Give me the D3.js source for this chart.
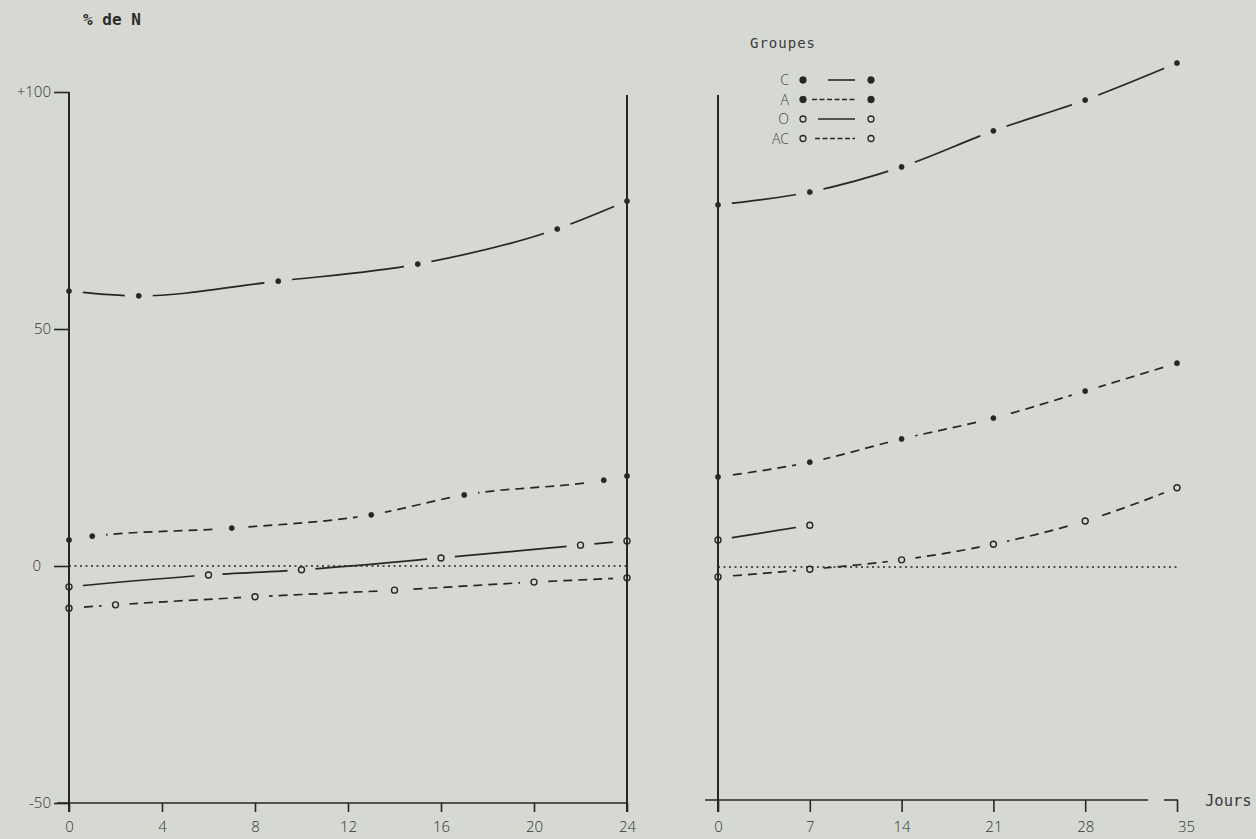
<!DOCTYPE html>
<html>
<head>
<meta charset="utf-8">
<script src="https://cdn.jsdelivr.net/npm/d3@7"></script>
<style>
  body { margin: 0; background: #d6d9d2; }
  svg { display: block; }
  .tick text { font-family: "Open Sans", "Liberation Sans", sans-serif; font-weight: 300; font-size: 15px; fill: #333; }
</style>
</head>
<body>
<svg width="1256" height="839"></svg>
<script>
// tick labels
const ticksG = [0, 4, 8, 12, 16, 20, 24];
const ticksD = [0, 7, 14, 21, 28, 35];
const ticksY = [-50, 0, 50, 100];
const groups = ['C', 'A', 'O', 'AC'];

// left panel (0 - 24)
const joursCG = [0, 3, 9, 15, 21, 24];
const valsCG = [58.0, 57.0, 60.1, 63.7, 71.1, 77.0];
const joursAG = [0, 1, 7, 13, 17, 23, 24];
const valsAG = [5.5, 6.3, 8.0, 10.8, 15.0, 18.1, 19.0];
const joursOG = [0, 6, 10, 16, 22, 24];
const valsOG = [-4.4, -1.9, -0.8, 1.7, 4.4, 5.3];
const joursACG = [0, 2, 8, 14, 20, 24];
const valsACG = [-8.9, -8.2, -6.5, -5.1, -3.4, -2.5];

// right panel (0 - 35 jours)
const joursCD = [0, 7, 14, 21, 28, 35];
const valsCD = [76.2, 78.9, 84.2, 91.8, 98.3, 106.1];
const joursAD = [0, 7, 14, 21, 28, 35];
const valsAD = [18.8, 21.9, 26.8, 31.2, 36.9, 42.8];
const joursOD = [0, 7];
const valsOD = [5.5, 8.6];
const joursACD = [0, 7, 14, 21, 28, 35];
const valsACD = [-2.3, -0.7, 1.3, 4.6, 9.5, 16.5];

const ink = '#262626';

// line style per group
const dashes = { C: null, A: '9,6', O: null, AC: '9,6' };
const filled = { C: true, A: true, O: false, AC: false };

const svg = d3.select('svg');

const scaleY = d3.scaleLinear().domain([-50, 100]).range([803, 92]);
const scaleXG = d3.scaleLinear().domain([0, 24]).range([69, 627]);
const scaleXD = d3.scaleLinear().domain([0, 35]).range([718, 1177]);

const zip = (xs, ys) => xs.map((x, i) => ({ x: x, y: ys[i] }));

const panels = [
  {
    scaleX: scaleXG,
    series: [
      { g: 'C', pts: zip(joursCG, valsCG) },
      { g: 'A', pts: zip(joursAG, valsAG) },
      { g: 'O', pts: zip(joursOG, valsOG) },
      { g: 'AC', pts: zip(joursACG, valsACG) }
    ]
  },
  {
    scaleX: scaleXD,
    series: [
      { g: 'C', pts: zip(joursCD, valsCD) },
      { g: 'A', pts: zip(joursAD, valsAD) },
      { g: 'O', pts: zip(joursOD, valsOD) },
      { g: 'AC', pts: zip(joursACD, valsACD) }
    ]
  }
];

// mask: the curves stop short of each point
const mask = svg.append('defs').append('mask')
  .attr('id', 'gaps')
  .attr('maskUnits', 'userSpaceOnUse')
  .attr('x', 0).attr('y', 0).attr('width', 1256).attr('height', 839);
mask.append('rect')
  .attr('width', 1256).attr('height', 839)
  .attr('fill', 'white');
panels.forEach(p => {
  p.series.forEach(s => {
    mask.append('g')
      .selectAll('circle')
      .data(s.pts)
      .join('circle')
      .attr('cx', d => p.scaleX(d.x))
      .attr('cy', d => scaleY(d.y))
      .attr('r', 14)
      .attr('fill', 'black');
  });
});

// curves
const curves = svg.append('g').attr('mask', 'url(#gaps)');
panels.forEach(p => {
  const line = d3.line()
    .x(d => p.scaleX(d.x))
    .y(d => scaleY(d.y))
    .curve(d3.curveMonotoneX);

  curves.append('g')
    .selectAll('path')
    .data(p.series)
    .join('path')
    .attr('d', s => line(s.pts))
    .attr('fill', 'none')
    .attr('stroke', ink)
    .attr('stroke-width', 1.7)
    .attr('stroke-dasharray', s => dashes[s.g]);
});

// zero lines
svg.append('line')
  .attr('x1', scaleXG(0)).attr('x2', scaleXG(24))
  .attr('y1', scaleY(0)).attr('y2', scaleY(0))
  .attr('stroke', ink).attr('stroke-width', 1.3)
  .attr('stroke-dasharray', '2,3.5');

svg.append('line')
  .attr('x1', scaleXD(0)).attr('x2', scaleXD(35))
  .attr('y1', scaleY(0) + 1).attr('y2', scaleY(0) + 1)
  .attr('stroke', ink).attr('stroke-width', 1.3)
  .attr('stroke-dasharray', '2,3.5');

// left y axis
const axisYG = svg.append('g')
  .attr('transform', `translate(${scaleXG(0)}, 0)`)
  .call(d3.axisLeft(scaleY)
    .tickValues(ticksY)
    .tickSizeInner(15)
    .tickSizeOuter(0)
    .tickPadding(3)
    .tickFormat(d => d === 100 ? '+100' : d));
axisYG.select('.domain').remove();
axisYG.selectAll('.tick line').attr('stroke', ink).attr('stroke-width', 1.6);
axisYG.selectAll('.tick text').filter(d => d === 0).attr('dx', -10);
axisYG.append('line')
  .attr('y1', scaleY(100)).attr('y2', scaleY(-50) + 9)
  .attr('stroke', ink).attr('stroke-width', 2);

// left x axis
const axisXG = svg.append('g')
  .attr('transform', `translate(0, ${scaleY(-50)})`)
  .call(d3.axisBottom(scaleXG)
    .tickValues(ticksG)
    .tickSizeInner(9)
    .tickSizeOuter(0)
    .tickPadding(9));
axisXG.select('.domain').remove();
axisXG.selectAll('.tick line').attr('stroke', ink).attr('stroke-width', 1.6);
axisXG.append('line')
  .attr('x1', 57).attr('x2', scaleXG(24))
  .attr('stroke', ink).attr('stroke-width', 1.6);

// right border of the left panel (the 24 mark)
svg.append('line')
  .attr('x1', scaleXG(24)).attr('x2', scaleXG(24))
  .attr('y1', 95).attr('y2', scaleY(-50) + 9)
  .attr('stroke', ink).attr('stroke-width', 2);

// right y axis (no labels)
svg.append('line')
  .attr('x1', scaleXD(0)).attr('x2', scaleXD(0))
  .attr('y1', 95).attr('y2', scaleY(-50) + 9)
  .attr('stroke', ink).attr('stroke-width', 2);

// right x axis
const axisXD = svg.append('g')
  .attr('transform', `translate(0, ${scaleY(-50) - 3})`)
  .call(d3.axisBottom(scaleXD)
    .tickValues(ticksD)
    .tickSizeInner(12)
    .tickSizeOuter(0)
    .tickPadding(9));
axisXD.select('.domain').remove();
axisXD.selectAll('.tick line').attr('stroke', ink).attr('stroke-width', 1.6);
axisXD.selectAll('.tick text').filter(d => d === 35).attr('dx', 9);
axisXD.append('line')
  .attr('x1', 705).attr('x2', 1148)
  .attr('stroke', ink).attr('stroke-width', 1.6);
axisXD.append('line')
  .attr('x1', scaleXD(35) - 13).attr('x2', scaleXD(35) + 0.8)
  .attr('stroke', ink).attr('stroke-width', 1.6);

svg.append('text')
  .attr('x', 1205).attr('y', 806)
  .attr('font-family', 'DejaVu Sans Mono, monospace')
  .attr('font-size', 15.5)
  .attr('fill', '#3a3a3a')
  .text('Jours');

// markers
panels.forEach(p => {
  p.series.forEach(s => {
    svg.append('g')
      .selectAll('circle')
      .data(s.pts)
      .join('circle')
      .attr('cx', d => p.scaleX(d.x))
      .attr('cy', d => scaleY(d.y))
      .attr('r', filled[s.g] ? 2.6 : 3)
      .attr('fill', filled[s.g] ? ink : 'none')
      .attr('stroke', ink)
      .attr('stroke-width', filled[s.g] ? 0.5 : 1.4);
  });
});

// title
svg.append('text')
  .attr('x', 83).attr('y', 25)
  .attr('font-family', 'DejaVu Sans Mono, monospace')
  .attr('font-size', 16)
  .attr('font-weight', 'bold')
  .attr('fill', '#2a2a2a')
  .text('% de N');

// legend
svg.append('text')
  .attr('x', 750).attr('y', 48)
  .attr('font-family', 'DejaVu Sans Mono, monospace')
  .attr('font-size', 14)
  .attr('letter-spacing', 1)
  .attr('fill', '#3a3a3a')
  .text('Groupes');

const legendStart = { C: 828, A: 812, O: 818, AC: 815 };

const legend = svg.append('g')
  .selectAll('g')
  .data(groups)
  .join('g')
  .attr('transform', (d, i) => `translate(0, ${80 + i * 19.5})`);

legend.append('text')
  .attr('x', 789).attr('y', 5)
  .attr('text-anchor', 'end')
  .attr('font-family', 'Open Sans, Liberation Sans, sans-serif')
  .attr('font-weight', 300)
  .attr('font-size', 14)
  .attr('fill', '#444')
  .text(d => d);

legend.append('line')
  .attr('x1', d => legendStart[d]).attr('x2', 855)
  .attr('stroke', ink).attr('stroke-width', 1.6)
  .attr('stroke-dasharray', d => dashes[d] ? '5,2.5' : null);

[803, 871].forEach(cx => {
  legend.append('circle')
    .attr('cx', cx).attr('cy', 0)
    .attr('r', d => filled[d] ? 3.4 : 3)
    .attr('fill', d => filled[d] ? ink : 'none')
    .attr('stroke', ink)
    .attr('stroke-width', d => filled[d] ? 0.5 : 1.3);
});
</script>
</body>
</html>
